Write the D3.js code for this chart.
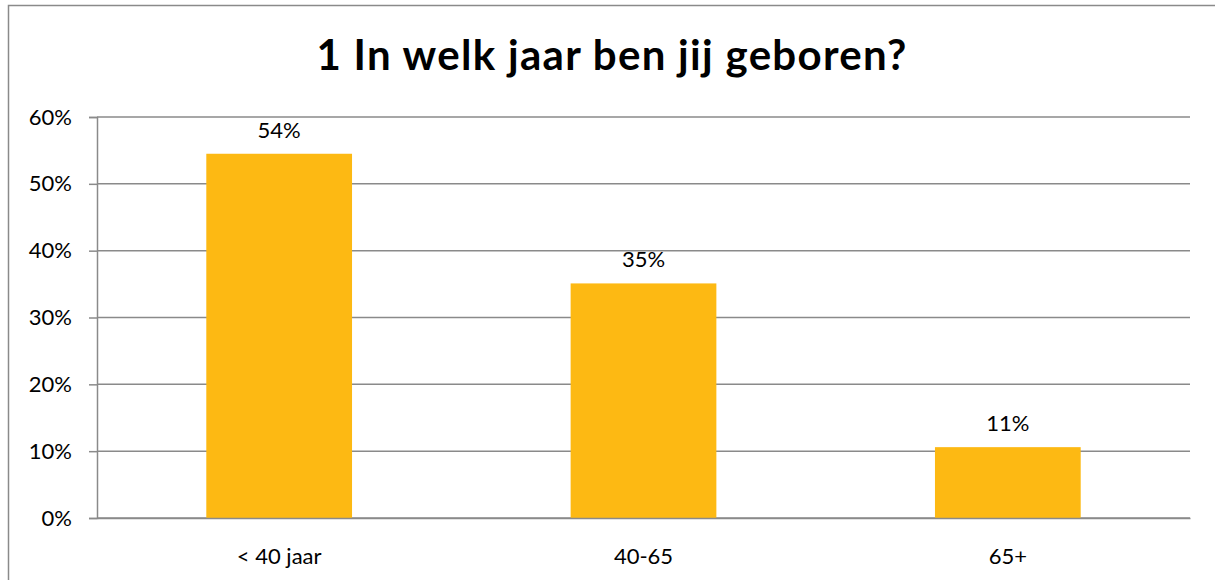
<!DOCTYPE html>
<html><head><meta charset="utf-8">
<script src="https://cdn.jsdelivr.net/npm/d3@7"></script>
<style>body{margin:0;background:#fff}svg{display:block}</style>
</head><body>
<svg id="c" width="1215" height="580"></svg>
<script>
const categories = ["< 40 jaar", "40-65", "65+"];
const values = [0.545, 0.351, 0.106];
const valueLabels = ["54%", "35%", "11%"];
const yTicks = [0, 0.1, 0.2, 0.3, 0.4, 0.5, 0.6];
const title = "1 In welk jaar ben jij geboren?";

const svg = d3.select("#c");
const font = "Lato, 'Open Sans', sans-serif";
const m = {left: 97, right: 1190, top: 117, bottom: 518};

svg.append("rect").attr("x", 8.5).attr("y", 5.5).attr("width", 1220).attr("height", 600)
  .attr("fill", "#fff").attr("stroke", "#8a8a8a").attr("stroke-width", 1.5);

const x = d3.scaleBand().domain(categories).range([m.left, m.right]).paddingInner(0.6).paddingOuter(0.3);
const y = d3.scaleLinear().domain([0, 0.6]).range([m.bottom, m.top]);

const yAxis = d3.axisLeft(y).tickValues(yTicks).tickSize(8).tickPadding(17).tickFormat(d3.format(".0%"));
const gy = svg.append("g").attr("transform", `translate(${m.left},0)`).call(yAxis);
gy.select(".domain").attr("stroke", "#8a8a8a").attr("stroke-width", 1.5);
gy.selectAll(".tick line").attr("stroke", "#8a8a8a").attr("stroke-width", 1.5);
gy.selectAll(".tick text").attr("font-family", font).attr("font-size", 22).attr("fill", "#000");

svg.append("g").selectAll("line").data(yTicks).join("line")
  .attr("x1", m.left).attr("x2", m.right).attr("y1", d => y(d)).attr("y2", d => y(d))
  .attr("stroke", "#8a8a8a").attr("stroke-width", 1.5);

svg.append("g").selectAll("rect").data(values).join("rect")
  .attr("x", (d, i) => x(categories[i])).attr("width", x.bandwidth())
  .attr("y", d => y(d)).attr("height", d => y(0) - y(d)).attr("fill", "#FDB913");

svg.append("g").selectAll("text").data(values).join("text")
  .attr("x", (d, i) => x(categories[i]) + x.bandwidth() / 2).attr("y", d => y(d) - 16)
  .attr("text-anchor", "middle").attr("font-family", font).attr("font-size", 22).attr("fill", "#000")
  .text((d, i) => valueLabels[i]);

const xAxis = d3.axisBottom(x).tickSize(0).tickPadding(30);
const gx = svg.append("g").attr("transform", `translate(0,${m.bottom})`).call(xAxis);
gx.select(".domain").attr("stroke", "#8a8a8a").attr("stroke-width", 1.5);
gx.selectAll(".tick text").attr("font-family", font).attr("font-size", 22).attr("fill", "#000");

svg.append("text").attr("x", 612).attr("y", 70).attr("text-anchor", "middle")
  .attr("font-family", font).attr("font-weight", "bold").attr("font-size", 42)
  .attr("letter-spacing", 1.3).attr("fill", "#000")
  .text(title);
</script>
</body></html>
